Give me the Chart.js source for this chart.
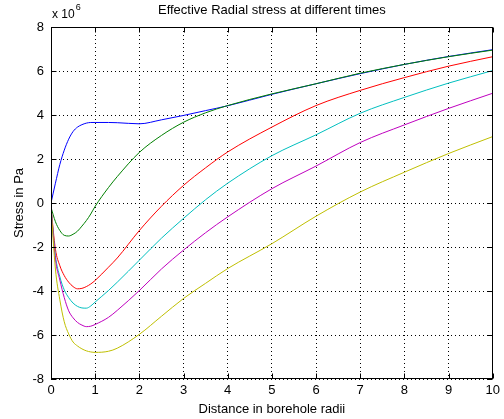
<!DOCTYPE html>
<html>
<head>
<meta charset="utf-8">
<title>Effective Radial stress</title>
<script src="https://cdn.jsdelivr.net/npm/chart.js@4.4.1/dist/chart.umd.min.js"></script>
<style>
  html, body { margin: 0; padding: 0; background: #fff; }
</style>
</head>
<body>
<canvas id="stressChart" width="504" height="419"></canvas>
<script>
// distance from the borehole wall, in borehole radii
const radii = [0, 0.1, 0.2, 0.3, 0.4, 0.5, 0.6, 0.7, 0.8, 0.9, 1, 1.3, 1.5, 2, 2.5, 3, 3.5, 4, 5, 6, 7, 8, 9, 10];

// effective radial stress, x 10^6 Pa, one array per time step
const stressT1 = [0, 0.9, 1.75, 2.4, 2.9, 3.25, 3.45, 3.56, 3.63, 3.66, 3.66, 3.66, 3.65, 3.6, 3.78, 3.98, 4.2, 4.42, 4.94, 5.42, 5.88, 6.3, 6.66, 6.97];
const stressT2 = [-0.2, -0.85, -1.25, -1.47, -1.5, -1.42, -1.28, -1.05, -0.8, -0.5, -0.15, 0.7, 1.2, 2.3, 3.07, 3.67, 4.1, 4.43, 4.96, 5.42, 5.9, 6.3, 6.65, 6.95];
const stressT3 = [-0.2, -2.1, -2.85, -3.3, -3.6, -3.8, -3.9, -3.88, -3.8, -3.68, -3.52, -2.92, -2.5, -1.25, -0.15, 0.8, 1.6, 2.32, 3.45, 4.43, 5.12, 5.7, 6.22, 6.65];
const stressT4 = [-0.2, -2.4, -3.35, -3.95, -4.3, -4.55, -4.7, -4.77, -4.78, -4.68, -4.5, -3.98, -3.6, -2.6, -1.6, -0.7, 0.15, 0.9, 2.15, 3.1, 4.08, 4.8, 5.45, 6.02];
const stressT5 = [-0.2, -2.55, -3.5, -4.3, -4.9, -5.22, -5.43, -5.55, -5.62, -5.6, -5.52, -5.2, -4.88, -3.98, -3.0, -2.14, -1.35, -0.63, 0.65, 1.68, 2.75, 3.55, 4.3, 4.99];
const stressT6 = [-0.2, -3.0, -4.4, -5.4, -5.95, -6.32, -6.5, -6.63, -6.72, -6.77, -6.79, -6.74, -6.6, -5.97, -5.15, -4.34, -3.65, -2.98, -1.85, -0.6, 0.5, 1.4, 2.25, 3.02];

const xTicks = [0, 1, 2, 3, 4, 5, 6, 7, 8, 9, 10];
const yTicks = [-8, -6, -4, -2, 0, 2, 4, 6, 8];
const yScaleFactor = 1e6;

const series = [stressT1, stressT2, stressT3, stressT4, stressT5, stressT6];
const lineColors = ['#0000ff', '#008000', '#ff0000', '#00bfbf', '#bf00bf', '#bfbf00'];

const FONT = '"Liberation Sans", Arial, Helvetica, sans-serif';

const datasets = series.map((vals, i) => ({
    data: radii.map((r, k) => ({ x: r, y: vals[k] * yScaleFactor })),
    borderColor: lineColors[i],
    borderWidth: 1,
    pointRadius: 0,
    fill: false,
    cubicInterpolationMode: 'monotone',
    order: series.length - i
}));

// box round the axes, inward tick marks, title and the axis exponent
const axesFrame = {
    id: 'axesFrame',
    afterDraw(chart) {
        const { ctx, chartArea: a, scales } = chart;
        const L = Math.round(a.left) + 0.5, R = Math.round(a.right) - 0.5;
        const T = Math.round(a.top) + 0.5, B = Math.round(a.bottom) - 0.5;
        ctx.save();
        ctx.strokeStyle = '#000';
        ctx.lineWidth = 1;
        ctx.setLineDash([]);
        ctx.strokeRect(L, T, R - L, B - T);

        const tick = 5;
        ctx.beginPath();
        xTicks.forEach(v => {
            const px = Math.round(scales.x.getPixelForValue(v)) + 0.5;
            ctx.moveTo(px, B); ctx.lineTo(px, B - tick);
            ctx.moveTo(px, T); ctx.lineTo(px, T + tick);
        });
        yTicks.forEach(v => {
            const py = Math.round(scales.y.getPixelForValue(v * yScaleFactor)) + 0.5;
            ctx.moveTo(L, py); ctx.lineTo(L + tick, py);
            ctx.moveTo(R, py); ctx.lineTo(R - tick, py);
        });
        ctx.stroke();

        ctx.fillStyle = '#000';
        ctx.textBaseline = 'middle';
        ctx.textAlign = 'center';
        ctx.font = '13px ' + FONT;
        ctx.fillText('Effective Radial stress at different times', (a.left + a.right) / 2, 10);

        ctx.textAlign = 'left';
        ctx.font = '12px ' + FONT;
        const base = 'x 10';
        ctx.fillText(base, a.left + 1, 15);
        const w = ctx.measureText(base).width;
        ctx.font = '9px ' + FONT;
        ctx.fillText('6', a.left + 2 + w, 8);
        ctx.restore();
    }
};

const config = {
    type: 'line',
    data: { datasets: datasets },
    options: {
        responsive: false,
        animation: false,
        events: [],
        layout: { padding: { left: 0, top: 27, right: 7, bottom: 0 } },
        plugins: {
            legend: { display: false },
            tooltip: { enabled: false },
            title: { display: false }
        },
        scales: {
            x: {
                type: 'linear',
                min: 0,
                max: 10,
                afterBuildTicks: s => { s.ticks = xTicks.map(v => ({ value: v })); },
                afterFit: s => { s.height = 40; },
                grid: { color: '#000', lineWidth: 1, drawTicks: false },
                border: { display: false, dash: [1, 3] },
                ticks: {
                    color: '#000',
                    padding: 4,
                    maxRotation: 0,
                    font: { family: FONT, size: 13 }
                },
                title: {
                    display: true,
                    text: 'Distance in borehole radii',
                    color: '#000',
                    font: { family: FONT, size: 13 },
                    padding: { top: 0, bottom: 2 }
                }
            },
            y: {
                type: 'linear',
                min: yTicks[0] * yScaleFactor,
                max: yTicks[yTicks.length - 1] * yScaleFactor,
                afterBuildTicks: s => { s.ticks = yTicks.map(v => ({ value: v * yScaleFactor })); },
                afterFit: s => { s.width = 51; },
                grid: { color: '#000', lineWidth: 1, drawTicks: false },
                border: { display: false, dash: [1, 3] },
                ticks: {
                    color: '#000',
                    padding: 7,
                    font: { family: FONT, size: 13 },
                    callback: v => String(Math.round(v / yScaleFactor))
                },
                title: {
                    display: true,
                    text: 'Stress in Pa',
                    color: '#000',
                    font: { family: FONT, size: 13 },
                    padding: { top: 12, bottom: 0 }
                }
            }
        }
    },
    plugins: [axesFrame]
};

window.onload = function () {
    const ctx = document.getElementById('stressChart').getContext('2d');
    new Chart(ctx, config);
};
</script>
</body>
</html>
